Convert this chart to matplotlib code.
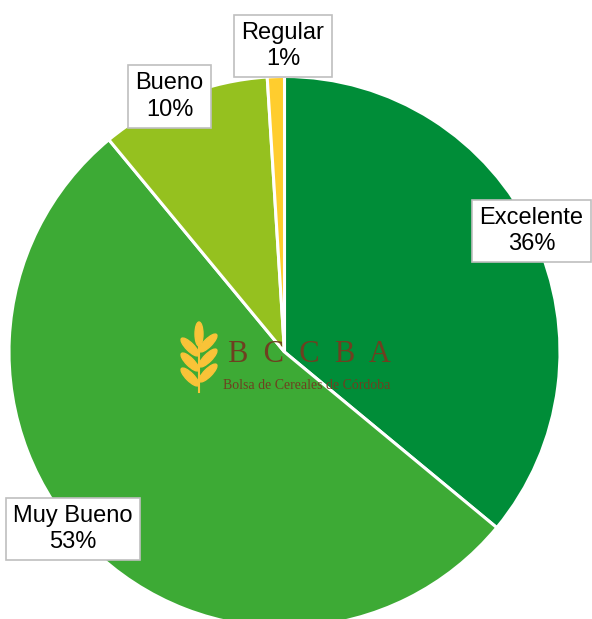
import matplotlib
matplotlib.use("Agg")
import matplotlib.pyplot as plt
from matplotlib.patches import Ellipse

categories = ["Excelente", "Muy Bueno", "Bueno", "Regular"]
values = [36, 53, 10, 1]
colors = ["#008D38", "#3DAA35", "#95C11F", "#FFCD2E"]

W, H = 592, 619
CX, CY, R = 284.5, 352.0, 275.5


def px(x, y):
    return (x - CX) / R, (CY - y) / R


fig = plt.figure(figsize=(W / 100, H / 100), dpi=100)
ax = fig.add_axes([0, 0, 1, 1])

ax.pie(values, colors=colors, startangle=90, counterclock=False, radius=1.0,
       wedgeprops=dict(edgecolor="white", linewidth=2.2))

ax.set_aspect("auto")
ax.set_xlim(px(0, 0)[0], px(W, 0)[0])
ax.set_ylim(px(0, H)[1], px(0, 0)[1])
ax.axis("off")

# watermark logo
brown = "#6E4020"
bx, by = px(309, 354)
ax.text(bx, by, "B  C  C  B  A", fontsize=22, family="Liberation Serif",
        color=brown, ha="center", va="center", zorder=5)
bx2, by2 = px(307, 385)
ax.text(bx2, by2, "Bolsa de Cereales de Córdoba", fontsize=10,
        family="Liberation Serif", color=brown, ha="center", va="center", zorder=5)

# wheat icon
yellow = "#F9C338"
leaf_w, leaf_h = 8 / R, 24 / R
stem = [px(199, 335), px(199, 392)]
ax.plot([stem[0][0], stem[1][0]], [stem[0][1], stem[1][1]], color=yellow, lw=1.5, zorder=5)
ax.add_patch(Ellipse(px(199, 334), leaf_w, leaf_h, color=yellow, zorder=5))
for yy in (347, 362, 377):
    ax.add_patch(Ellipse(px(190, yy), leaf_w, leaf_h, angle=45, color=yellow, zorder=5))
    ax.add_patch(Ellipse(px(208, yy - 4), leaf_w, leaf_h, angle=-45, color=yellow, zorder=5))

# labels
label_pos = [(531.5, 231), (73, 529), (169.5, 96.5), (283, 46)]
for cat, val, (lx, ly) in zip(categories, values, label_pos):
    x, y = px(lx, ly)
    ax.text(x, y, f"{cat}\n{val}%", fontsize=17, family="Liberation Sans",
            ha="center", va="center", linespacing=1.25, zorder=10,
            bbox=dict(boxstyle="square,pad=0.3", facecolor="white",
                      edgecolor="#BFBFBF", linewidth=1.2))

fig.savefig("out.png", dpi=100)
